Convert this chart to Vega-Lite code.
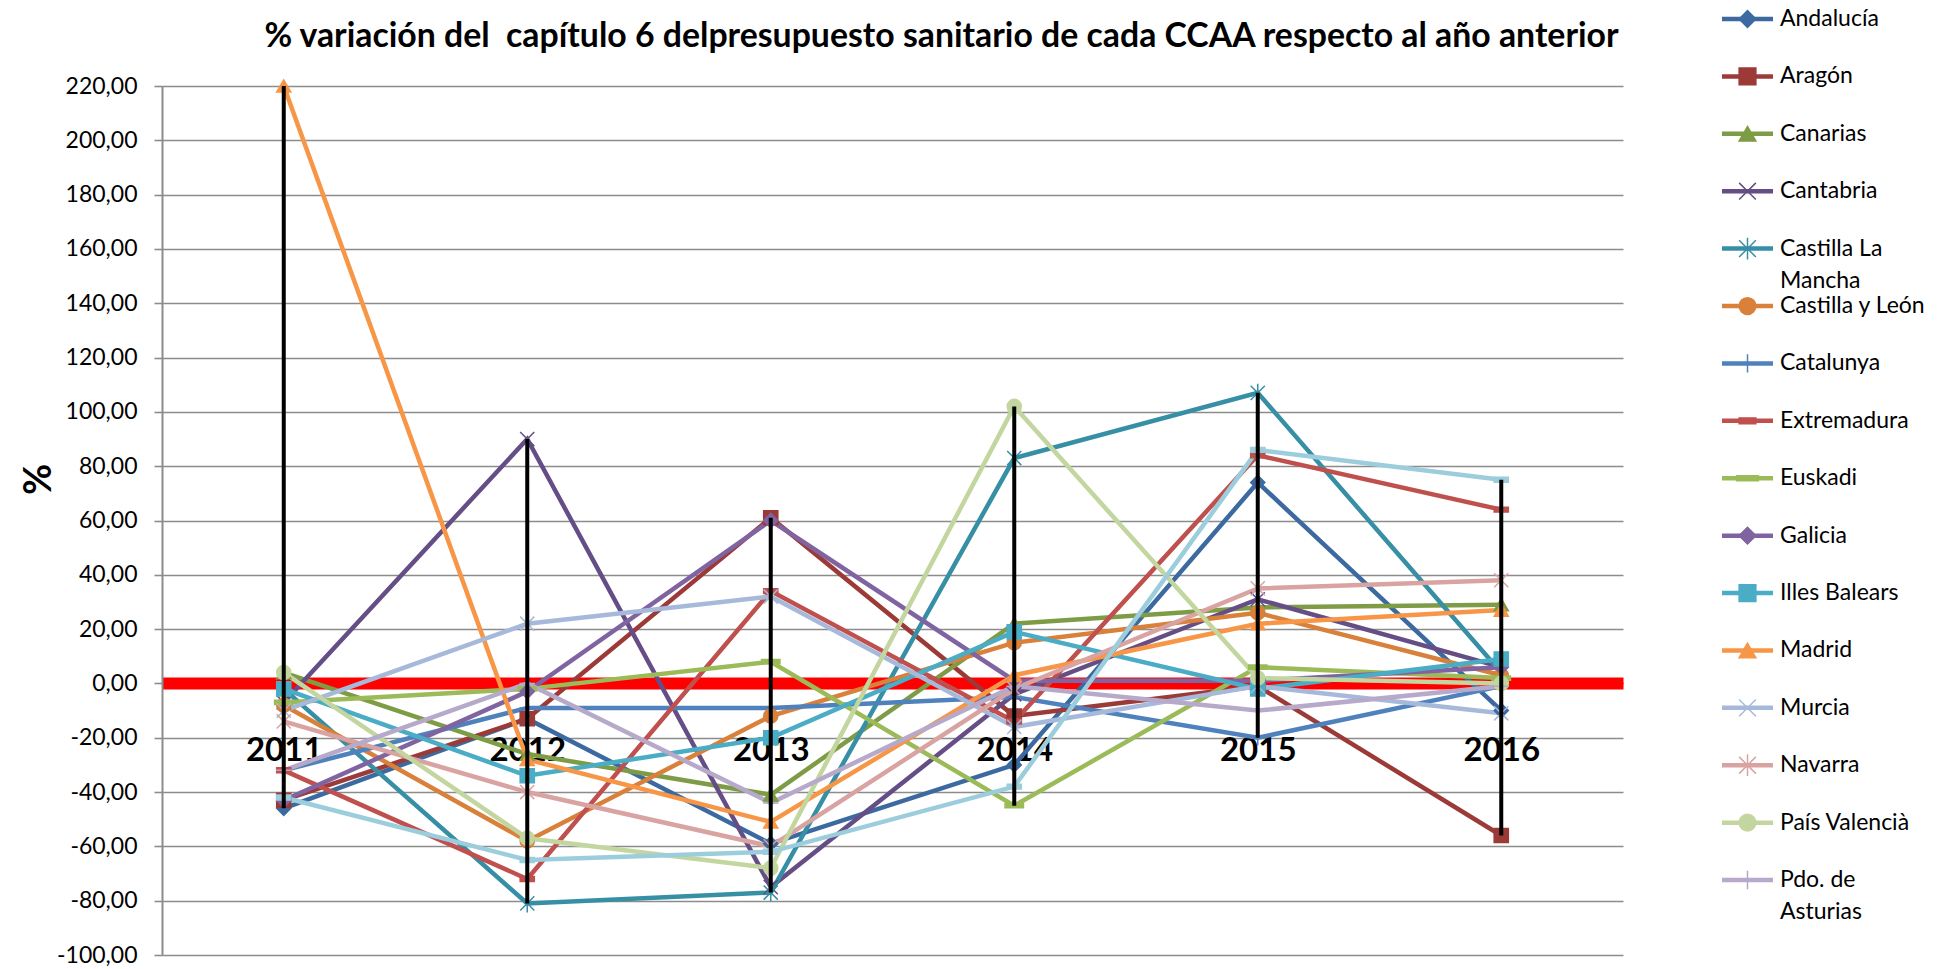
{
  "$schema": "https://vega.github.io/schema/vega-lite/v6.json",
  "background": "white",
  "padding": {"left": 20, "top": 7, "right": 0, "bottom": 0},
  "config": {"view": {"stroke": null}, "font": "Lato"},
  "resolve": {"scale": {"x": "independent", "y": "independent"}},
  "spacing": 96,
  "datasets": {
    "series": [
      {"CCAA": "Andalucía", "year": "2011", "value": -46}, {"CCAA": "Andalucía", "year": "2012", "value": -13}, {"CCAA": "Andalucía", "year": "2013", "value": -59}, {"CCAA": "Andalucía", "year": "2014", "value": -30}, {"CCAA": "Andalucía", "year": "2015", "value": 74}, {"CCAA": "Andalucía", "year": "2016", "value": -10},
      {"CCAA": "Aragón", "year": "2011", "value": -43}, {"CCAA": "Aragón", "year": "2012", "value": -13}, {"CCAA": "Aragón", "year": "2013", "value": 61}, {"CCAA": "Aragón", "year": "2014", "value": -12}, {"CCAA": "Aragón", "year": "2015", "value": -1}, {"CCAA": "Aragón", "year": "2016", "value": -56},
      {"CCAA": "Canarias", "year": "2011", "value": 4}, {"CCAA": "Canarias", "year": "2012", "value": -26}, {"CCAA": "Canarias", "year": "2013", "value": -41}, {"CCAA": "Canarias", "year": "2014", "value": 22}, {"CCAA": "Canarias", "year": "2015", "value": 28}, {"CCAA": "Canarias", "year": "2016", "value": 29},
      {"CCAA": "Cantabria", "year": "2011", "value": -7}, {"CCAA": "Cantabria", "year": "2012", "value": 90}, {"CCAA": "Cantabria", "year": "2013", "value": -75}, {"CCAA": "Cantabria", "year": "2014", "value": -4}, {"CCAA": "Cantabria", "year": "2015", "value": 31}, {"CCAA": "Cantabria", "year": "2016", "value": 6},
      {"CCAA": "Castilla La Mancha", "year": "2011", "value": -2}, {"CCAA": "Castilla La Mancha", "year": "2012", "value": -81}, {"CCAA": "Castilla La Mancha", "year": "2013", "value": -77}, {"CCAA": "Castilla La Mancha", "year": "2014", "value": 83}, {"CCAA": "Castilla La Mancha", "year": "2015", "value": 107}, {"CCAA": "Castilla La Mancha", "year": "2016", "value": 4},
      {"CCAA": "Castilla y León", "year": "2011", "value": -8}, {"CCAA": "Castilla y León", "year": "2012", "value": -58}, {"CCAA": "Castilla y León", "year": "2013", "value": -12}, {"CCAA": "Castilla y León", "year": "2014", "value": 15}, {"CCAA": "Castilla y León", "year": "2015", "value": 26}, {"CCAA": "Castilla y León", "year": "2016", "value": 3},
      {"CCAA": "Catalunya", "year": "2011", "value": -32}, {"CCAA": "Catalunya", "year": "2012", "value": -9}, {"CCAA": "Catalunya", "year": "2013", "value": -9}, {"CCAA": "Catalunya", "year": "2014", "value": -5}, {"CCAA": "Catalunya", "year": "2015", "value": -20}, {"CCAA": "Catalunya", "year": "2016", "value": -1},
      {"CCAA": "Extremadura", "year": "2011", "value": -32}, {"CCAA": "Extremadura", "year": "2012", "value": -72}, {"CCAA": "Extremadura", "year": "2013", "value": 34}, {"CCAA": "Extremadura", "year": "2014", "value": -14}, {"CCAA": "Extremadura", "year": "2015", "value": 84}, {"CCAA": "Extremadura", "year": "2016", "value": 64},
      {"CCAA": "Euskadi", "year": "2011", "value": -7}, {"CCAA": "Euskadi", "year": "2012", "value": -2}, {"CCAA": "Euskadi", "year": "2013", "value": 8}, {"CCAA": "Euskadi", "year": "2014", "value": -45}, {"CCAA": "Euskadi", "year": "2015", "value": 6}, {"CCAA": "Euskadi", "year": "2016", "value": 2},
      {"CCAA": "Galicia", "year": "2011", "value": -43}, {"CCAA": "Galicia", "year": "2012", "value": -3}, {"CCAA": "Galicia", "year": "2013", "value": 60}, {"CCAA": "Galicia", "year": "2014", "value": 1}, {"CCAA": "Galicia", "year": "2015", "value": 1}, {"CCAA": "Galicia", "year": "2016", "value": 6},
      {"CCAA": "Illes Balears", "year": "2011", "value": -2}, {"CCAA": "Illes Balears", "year": "2012", "value": -34}, {"CCAA": "Illes Balears", "year": "2013", "value": -20}, {"CCAA": "Illes Balears", "year": "2014", "value": 19}, {"CCAA": "Illes Balears", "year": "2015", "value": -2}, {"CCAA": "Illes Balears", "year": "2016", "value": 9},
      {"CCAA": "Madrid", "year": "2011", "value": 220}, {"CCAA": "Madrid", "year": "2012", "value": -28}, {"CCAA": "Madrid", "year": "2013", "value": -51}, {"CCAA": "Madrid", "year": "2014", "value": 3}, {"CCAA": "Madrid", "year": "2015", "value": 22}, {"CCAA": "Madrid", "year": "2016", "value": 27},
      {"CCAA": "Murcia", "year": "2011", "value": -10}, {"CCAA": "Murcia", "year": "2012", "value": 22}, {"CCAA": "Murcia", "year": "2013", "value": 32}, {"CCAA": "Murcia", "year": "2014", "value": -16}, {"CCAA": "Murcia", "year": "2015", "value": -1}, {"CCAA": "Murcia", "year": "2016", "value": -11},
      {"CCAA": "Navarra", "year": "2011", "value": -14}, {"CCAA": "Navarra", "year": "2012", "value": -40}, {"CCAA": "Navarra", "year": "2013", "value": -60}, {"CCAA": "Navarra", "year": "2014", "value": -2}, {"CCAA": "Navarra", "year": "2015", "value": 35}, {"CCAA": "Navarra", "year": "2016", "value": 38},
      {"CCAA": "País Valencià", "year": "2011", "value": 4}, {"CCAA": "País Valencià", "year": "2012", "value": -57}, {"CCAA": "País Valencià", "year": "2013", "value": -68}, {"CCAA": "País Valencià", "year": "2014", "value": 102}, {"CCAA": "País Valencià", "year": "2015", "value": 2}, {"CCAA": "País Valencià", "year": "2016", "value": 0},
      {"CCAA": "Pdo. de Asturias", "year": "2011", "value": -32}, {"CCAA": "Pdo. de Asturias", "year": "2012", "value": 0}, {"CCAA": "Pdo. de Asturias", "year": "2013", "value": -44}, {"CCAA": "Pdo. de Asturias", "year": "2014", "value": -1}, {"CCAA": "Pdo. de Asturias", "year": "2015", "value": -10}, {"CCAA": "Pdo. de Asturias", "year": "2016", "value": -1},
      {"CCAA": "La Rioja", "year": "2011", "value": -42}, {"CCAA": "La Rioja", "year": "2012", "value": -65}, {"CCAA": "La Rioja", "year": "2013", "value": -62}, {"CCAA": "La Rioja", "year": "2014", "value": -38}, {"CCAA": "La Rioja", "year": "2015", "value": 86}, {"CCAA": "La Rioja", "year": "2016", "value": 75}
    ],
    "legend": [
      {"CCAA": "Andalucía", "idx": 0, "l1": "Andalucía", "l2": ""},
      {"CCAA": "Aragón", "idx": 1, "l1": "Aragón", "l2": ""},
      {"CCAA": "Canarias", "idx": 2, "l1": "Canarias", "l2": ""},
      {"CCAA": "Cantabria", "idx": 3, "l1": "Cantabria", "l2": ""},
      {"CCAA": "Castilla La Mancha", "idx": 4, "l1": "Castilla La", "l2": "Mancha"},
      {"CCAA": "Castilla y León", "idx": 5, "l1": "Castilla y León", "l2": ""},
      {"CCAA": "Catalunya", "idx": 6, "l1": "Catalunya", "l2": ""},
      {"CCAA": "Extremadura", "idx": 7, "l1": "Extremadura", "l2": ""},
      {"CCAA": "Euskadi", "idx": 8, "l1": "Euskadi", "l2": ""},
      {"CCAA": "Galicia", "idx": 9, "l1": "Galicia", "l2": ""},
      {"CCAA": "Illes Balears", "idx": 10, "l1": "Illes Balears", "l2": ""},
      {"CCAA": "Madrid", "idx": 11, "l1": "Madrid", "l2": ""},
      {"CCAA": "Murcia", "idx": 12, "l1": "Murcia", "l2": ""},
      {"CCAA": "Navarra", "idx": 13, "l1": "Navarra", "l2": ""},
      {"CCAA": "País Valencià", "idx": 14, "l1": "País Valencià", "l2": ""},
      {"CCAA": "Pdo. de Asturias", "idx": 15, "l1": "Pdo. de", "l2": "Asturias"}
    ]
  },
  "hconcat": [
    {
      "width": 1461,
      "height": 869,
      "title": {"text": "% variación del\u00a0 capítulo 6 delpresupuesto sanitario de cada CCAA respecto al año anterior", "font": "Lato", "fontSize": 33.8, "fontWeight": "bold", "color": "black", "anchor": "middle", "dx": 49, "offset": 21},
      "data": {"name": "series"},
      "encoding": {
        "x": {"field": "year", "type": "ordinal", "scale": {"type": "point", "padding": 0.5},
          "axis": {"title": null, "orient": "bottom", "offset": -272, "domainColor": "#FF0000", "domainWidth": 12, "ticks": false, "labelAngle": 0, "labelFont": "Lato", "labelFontSize": 33, "labelFontWeight": "bold", "labelColor": "black", "labelPadding": 51, "labelBaseline": "top", "grid": false}},
        "y": {"field": "value", "type": "quantitative", "scale": {"domain": [-100, 220], "nice": false, "zero": false},
          "axis": {"title": "%", "titleFont": "Lato", "titleFontSize": 38, "titleFontWeight": "bold", "titleColor": "black", "titleAngle": -90, "titleX": -123, "titleY": 393, "titleBaseline": "middle", "titleAlign": "center",
            "values": [-100, -80, -60, -40, -20, 0, 20, 40, 60, 80, 100, 120, 140, 160, 180, 200, 220],
            "labelExpr": "(datum.value < 0 ? '-' : '') + replace(format(abs(datum.value), '.2f'), '.', ',')",
            "labelFont": "Lato", "labelFontSize": 23, "labelColor": "black", "labelPadding": 17,
            "tickSize": 8, "tickColor": "#8C8C8C", "tickWidth": 1.6, "domainColor": "#8C8C8C", "domainWidth": 2,
            "grid": true, "gridColor": {"condition": {"test": "datum.value === 0", "value": "#FF0000"}, "value": "#8C8C8C"}, "gridWidth": 1.6}}
      },
      "layer": [
        {"mark": {"type": "line", "strokeWidth": 4.5},
         "encoding": {"color": {"field": "CCAA", "type": "nominal", "legend": null,
           "scale": {"domain": ["Andalucía", "Aragón", "Canarias", "Cantabria", "Castilla La Mancha", "Castilla y León", "Catalunya", "Extremadura", "Euskadi", "Galicia", "Illes Balears", "Madrid", "Murcia", "Navarra", "País Valencià", "Pdo. de Asturias", "La Rioja"],
             "range": ["#3C6AA0", "#9B3A37", "#7E9B45", "#654E86", "#378FA5", "#D9803A", "#4F81BD", "#C0504D", "#9BBB59", "#8064A2", "#4BACC6", "#F79646", "#A7B9DA", "#D9A3A2", "#C3D6A0", "#B6A9CA", "#9CCDDC"]}}}},
        {"mark": {"type": "point", "filled": true, "size": 200, "strokeWidth": 1.5, "opacity": 1},
         "encoding": {
           "color": {"field": "CCAA", "type": "nominal", "legend": null},
           "stroke": {"field": "CCAA", "type": "nominal", "legend": null,
             "scale": {"domain": ["Andalucía", "Aragón", "Canarias", "Cantabria", "Castilla La Mancha", "Castilla y León", "Catalunya", "Extremadura", "Euskadi", "Galicia", "Illes Balears", "Madrid", "Murcia", "Navarra", "País Valencià", "Pdo. de Asturias", "La Rioja"],
               "range": ["#3C6AA0", "#9B3A37", "#7E9B45", "#654E86", "#378FA5", "#D9803A", "#4F81BD", "#C0504D", "#9BBB59", "#8064A2", "#4BACC6", "#F79646", "#A7B9DA", "#D9A3A2", "#C3D6A0", "#B6A9CA", "#9CCDDC"]}},
           "shape": {"field": "CCAA", "type": "nominal", "legend": null,
             "scale": {"domain": ["Andalucía", "Aragón", "Canarias", "Cantabria", "Castilla La Mancha", "Castilla y León", "Catalunya", "Extremadura", "Euskadi", "Galicia", "Illes Balears", "Madrid", "Murcia", "Navarra", "País Valencià", "Pdo. de Asturias", "La Rioja"],
               "range": ["diamond", "square", "triangle-up", "M-1,-1L1,1M-1,1L1,-1", "M-1,-1L1,1M-1,1L1,-1M0,-1.3L0,1.3", "circle", "M-1.1,0L1.1,0M0,-1.1L0,1.1", "M-1,-0.35L1,-0.35L1,0.35L-1,0.35Z", "M-1.3,-0.3L1.3,-0.3L1.3,0.3L-1.3,0.3Z", "diamond", "square", "triangle-up", "M-1,-1L1,1M-1,1L1,-1", "M-1,-1L1,1M-1,1L1,-1M0,-1.3L0,1.3", "circle", "M-1.1,0L1.1,0M0,-1.1L0,1.1", "M-1,-0.35L1,-0.35L1,0.35L-1,0.35Z"]}}}},
        {"transform": [{"aggregate": [{"op": "min", "field": "value", "as": "lo"}, {"op": "max", "field": "value", "as": "hi"}], "groupby": ["year"]}],
         "mark": {"type": "rule", "color": "black", "strokeWidth": 4},
         "encoding": {"y": {"field": "hi", "type": "quantitative"}, "y2": {"field": "lo"}}}
      ]
    },
    {
      "width": 51,
      "height": 869,
      "data": {"name": "legend"},
      "encoding": {
        "y": {"field": "idx", "type": "quantitative", "axis": null,
          "scale": {"domain": [1.167, 16.306], "reverse": true, "nice": false, "zero": false}}
      },
      "layer": [
        {"mark": {"type": "rule", "strokeWidth": 4.5},
         "encoding": {"x": {"datum": 0, "type": "quantitative", "scale": {"domain": [0, 1]}, "axis": null}, "x2": {"datum": 1},
           "color": {"field": "CCAA", "type": "nominal", "legend": null}}},
        {"mark": {"type": "point", "filled": true, "size": 280, "strokeWidth": 1.5, "opacity": 1},
         "encoding": {"x": {"datum": 0.5, "type": "quantitative"},
           "color": {"field": "CCAA", "type": "nominal", "legend": null},
           "stroke": {"field": "CCAA", "type": "nominal", "legend": null},
           "shape": {"field": "CCAA", "type": "nominal", "legend": null}}},
        {"mark": {"type": "text", "align": "left", "baseline": "middle", "dx": 7, "font": "Lato", "fontSize": 23, "color": "black"},
         "encoding": {"x": {"datum": 1, "type": "quantitative"}, "text": {"field": "l1"}}},
        {"mark": {"type": "text", "align": "left", "baseline": "middle", "dx": 7, "dy": 32, "font": "Lato", "fontSize": 23, "color": "black"},
         "encoding": {"x": {"datum": 1, "type": "quantitative"}, "text": {"field": "l2"}}}
      ]
    }
  ]
}
